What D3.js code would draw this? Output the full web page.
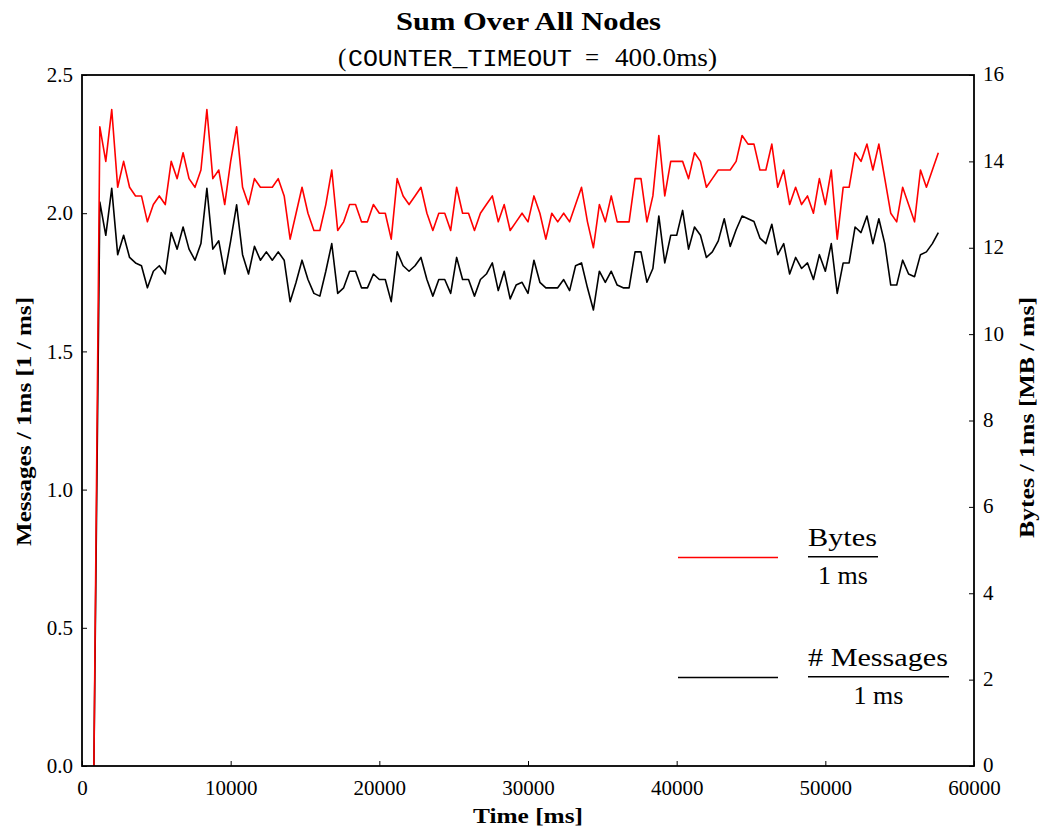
<!DOCTYPE html>
<html>
<head>
<meta charset="utf-8">
<script src="https://cdn.jsdelivr.net/npm/d3@7"></script>
<style>
  html, body { margin: 0; padding: 0; background: #fff; }
  svg { display: block; }
  text { font-family: "Liberation Serif", "Times New Roman", serif; fill: #000; }
</style>
</head>
<body>
<div id="chart"></div>
<script>
// Counter samples, one every COUNTER_TIMEOUT (400 ms), first sample at 800 ms.
const sampleStartMs = 800;
const counterTimeoutMs = 400;

// Messages per ms, summed over all nodes (left axis).
const messagesPerMs = [
  0.00,
  2.04, 1.92, 2.09, 1.85, 1.92, 1.84, 1.82, 1.81, 1.73, 1.79,
  1.81, 1.78, 1.93, 1.87, 1.95, 1.87, 1.83, 1.89, 2.09, 1.87,
  1.90, 1.78, 1.90, 2.03, 1.85, 1.78, 1.88, 1.83, 1.86, 1.83,
  1.86, 1.83, 1.68, 1.75, 1.83, 1.76, 1.71, 1.70, 1.79, 1.89,
  1.71, 1.73, 1.79, 1.79, 1.73, 1.73, 1.78, 1.76, 1.76, 1.68,
  1.86, 1.81, 1.79, 1.81, 1.84, 1.76, 1.70, 1.76, 1.76, 1.71,
  1.84, 1.76, 1.76, 1.70, 1.76, 1.78, 1.82, 1.72, 1.79, 1.69,
  1.74, 1.75, 1.71, 1.83, 1.75, 1.73, 1.73, 1.73, 1.76, 1.72,
  1.81, 1.82, 1.73, 1.65, 1.79, 1.75, 1.79, 1.74, 1.73, 1.73,
  1.86, 1.86, 1.75, 1.80, 1.99, 1.82, 1.92, 1.92, 2.01, 1.87,
  1.95, 1.92, 1.84, 1.86, 1.90, 1.98, 1.88, 1.94, 1.99, 1.98,
  1.97, 1.91, 1.89, 1.96, 1.85, 1.89, 1.78, 1.84, 1.80, 1.82,
  1.76, 1.85, 1.79, 1.89, 1.71, 1.82, 1.82, 1.95, 1.93, 1.99,
  1.89, 1.98, 1.89, 1.74, 1.74, 1.83, 1.78, 1.77, 1.85, 1.86,
  1.89, 1.93
];

// Bytes per ms in MB, summed over all nodes (right axis).
const megabytesPerMs = [
  0.0,
  14.8, 14.0, 15.2, 13.4, 14.0, 13.4, 13.2, 13.2, 12.6, 13.0,
  13.2, 13.0, 14.0, 13.6, 14.2, 13.6, 13.4, 13.8, 15.2, 13.6,
  13.8, 13.0, 14.0, 14.8, 13.4, 13.0, 13.6, 13.4, 13.4, 13.4,
  13.6, 13.2, 12.2, 12.8, 13.4, 12.8, 12.4, 12.4, 13.0, 13.8,
  12.4, 12.6, 13.0, 13.0, 12.6, 12.6, 13.0, 12.8, 12.8, 12.2,
  13.6, 13.2, 13.0, 13.2, 13.4, 12.8, 12.4, 12.8, 12.8, 12.4,
  13.4, 12.8, 12.8, 12.4, 12.8, 13.0, 13.2, 12.6, 13.0, 12.4,
  12.6, 12.8, 12.6, 13.2, 12.8, 12.2, 12.8, 12.6, 12.8, 12.6,
  13.0, 13.4, 12.6, 12.0, 13.0, 12.6, 13.2, 12.6, 12.6, 12.6,
  13.6, 13.6, 12.6, 13.2, 14.6, 13.2, 14.0, 14.0, 14.0, 13.6,
  14.2, 14.0, 13.4, 13.6, 13.8, 13.8, 13.8, 14.0, 14.6, 14.4,
  14.4, 13.8, 13.8, 14.4, 13.4, 13.8, 13.0, 13.4, 13.0, 13.2,
  12.8, 13.6, 13.0, 13.8, 12.2, 13.4, 13.4, 14.2, 14.0, 14.4,
  13.8, 14.4, 13.6, 12.8, 12.6, 13.4, 13.0, 12.6, 13.8, 13.4,
  13.8, 14.2
];

// Axis ticks
const timeTicks = [0, 10000, 20000, 30000, 40000, 50000, 60000];
const messageTicks = [0.0, 0.5, 1.0, 1.5, 2.0, 2.5];
const byteTicks = [0, 2, 4, 6, 8, 10, 12, 14, 16];

// Legend entries (numerator / denominator of each fraction)
const legendNumerators = ["Bytes", "# Messages"];
const legendDenominators = ["1 ms", "1 ms"];
const seriesColors = ["#ff0000", "#000000"];

// ---- layout ----
const W = 1042, H = 832;
const plot = { left: 82, right: 974, top: 75, bottom: 766 };

const svg = d3.select("#chart").append("svg")
  .attr("width", W).attr("height", H);

const x = d3.scaleLinear().domain([0, 60000]).range([plot.left, plot.right]);
const yMsg = d3.scaleLinear().domain([0, 2.5]).range([plot.bottom, plot.top]);
const yBytes = d3.scaleLinear().domain([0, 16]).range([plot.bottom, plot.top]);

const times = messagesPerMs.map((_, i) => sampleStartMs + i * counterTimeoutMs);

// ---- series ----
const msgLine = d3.line()
  .x((d, i) => x(times[i]))
  .y(d => yMsg(d));
const bytesLine = d3.line()
  .x((d, i) => x(times[i]))
  .y(d => yBytes(d));

svg.append("path")
  .datum(messagesPerMs)
  .attr("d", msgLine)
  .attr("fill", "none")
  .attr("stroke", seriesColors[1])
  .attr("stroke-width", 1.6)
  .attr("stroke-linejoin", "round");

svg.append("path")
  .datum(megabytesPerMs)
  .attr("d", bytesLine)
  .attr("fill", "none")
  .attr("stroke", seriesColors[0])
  .attr("stroke-width", 1.6)
  .attr("stroke-linejoin", "round");

// ---- axes (ticks point inward) ----
const tickFont = 21;

const gx = svg.append("g")
  .attr("transform", `translate(0,${plot.bottom})`)
  .call(d3.axisBottom(x).tickValues(timeTicks).tickFormat(d3.format("d"))
    .tickSizeInner(-5).tickSizeOuter(0).tickPadding(14));

const gyl = svg.append("g")
  .attr("transform", `translate(${plot.left},0)`)
  .call(d3.axisLeft(yMsg).tickValues(messageTicks).tickFormat(d3.format(".1f"))
    .tickSizeInner(-5).tickSizeOuter(0).tickPadding(9));

const gyr = svg.append("g")
  .attr("transform", `translate(${plot.right},0)`)
  .call(d3.axisRight(yBytes).tickValues(byteTicks).tickFormat(d3.format("d"))
    .tickSizeInner(-5).tickSizeOuter(0).tickPadding(9));

[gx, gyl, gyr].forEach(g => {
  g.select(".domain").remove();
  g.selectAll(".tick line").attr("stroke", "#000").attr("stroke-width", 1);
  g.selectAll(".tick text")
    .style("font-family", '"Liberation Serif", serif')
    .style("font-size", tickFont + "px")
    .attr("fill", "#000");
});
gyr.selectAll(".tick text").attr("dy", "0.28em");

// frame
svg.append("rect")
  .attr("x", plot.left).attr("y", plot.top)
  .attr("width", plot.right - plot.left)
  .attr("height", plot.bottom - plot.top)
  .attr("fill", "none")
  .attr("stroke", "#000")
  .attr("stroke-width", 1.8);

// ---- titles and axis labels ----
svg.append("text")
  .attr("x", 396).attr("y", 30)
  .attr("textLength", 265).attr("lengthAdjust", "spacingAndGlyphs")
  .style("font-size", "25px").style("font-weight", "bold")
  .text("Sum Over All Nodes");

const sub = svg.append("g");
sub.append("text").attr("x", 338).attr("y", 66)
  .style("font-size", "25px").text("(");
sub.append("text").attr("x", 348).attr("y", 66)
  .attr("textLength", 224).attr("lengthAdjust", "spacingAndGlyphs")
  .style("font-family", '"Liberation Mono", "DejaVu Sans Mono", monospace')
  .style("font-size", "24px").text("COUNTER_TIMEOUT");
sub.append("text").attr("x", 585).attr("y", 66)
  .style("font-size", "25px").text("=");
sub.append("text").attr("x", 615).attr("y", 66)
  .attr("textLength", 102).attr("lengthAdjust", "spacingAndGlyphs")
  .style("font-size", "25px").text("400.0ms)");

svg.append("text")
  .attr("x", 473).attr("y", 823)
  .attr("textLength", 110).attr("lengthAdjust", "spacingAndGlyphs")
  .style("font-size", "22px").style("font-weight", "bold")
  .text("Time [ms]");

svg.append("text")
  .attr("transform", "translate(31,546) rotate(-90)")
  .attr("textLength", 249).attr("lengthAdjust", "spacingAndGlyphs")
  .style("font-size", "22px").style("font-weight", "bold")
  .text("Messages / 1ms [1 / ms]");

svg.append("text")
  .attr("transform", "translate(1034,538) rotate(-90)")
  .attr("textLength", 241).attr("lengthAdjust", "spacingAndGlyphs")
  .style("font-size", "22px").style("font-weight", "bold")
  .text("Bytes / 1ms [MB / ms]");

// ---- legend ----
const legendRows = [
  { lineY: 557.5, numY: 546, barY: 556.7, denY: 584, barW: 70, numW: 69 },
  { lineY: 677.5, numY: 665.7, barY: 676.7, denY: 704, barW: 141, numW: 140 }
];
const legend = svg.append("g");
legendRows.forEach((r, i) => {
  legend.append("line")
    .attr("x1", 678).attr("x2", 778)
    .attr("y1", r.lineY).attr("y2", r.lineY)
    .attr("stroke", seriesColors[i]).attr("stroke-width", 1.6);
  const fx = 808;
  legend.append("text")
    .attr("x", fx).attr("y", r.numY)
    .attr("textLength", r.numW).attr("lengthAdjust", "spacingAndGlyphs")
    .style("font-size", "26px")
    .text(legendNumerators[i]);
  legend.append("line")
    .attr("x1", fx).attr("x2", fx + r.barW)
    .attr("y1", r.barY).attr("y2", r.barY)
    .attr("stroke", "#000").attr("stroke-width", 1.6);
  legend.append("text")
    .attr("x", fx + r.barW / 2).attr("y", r.denY)
    .attr("text-anchor", "middle")
    .style("font-size", "26px")
    .text(legendDenominators[i]);
});
</script>
</body>
</html>
